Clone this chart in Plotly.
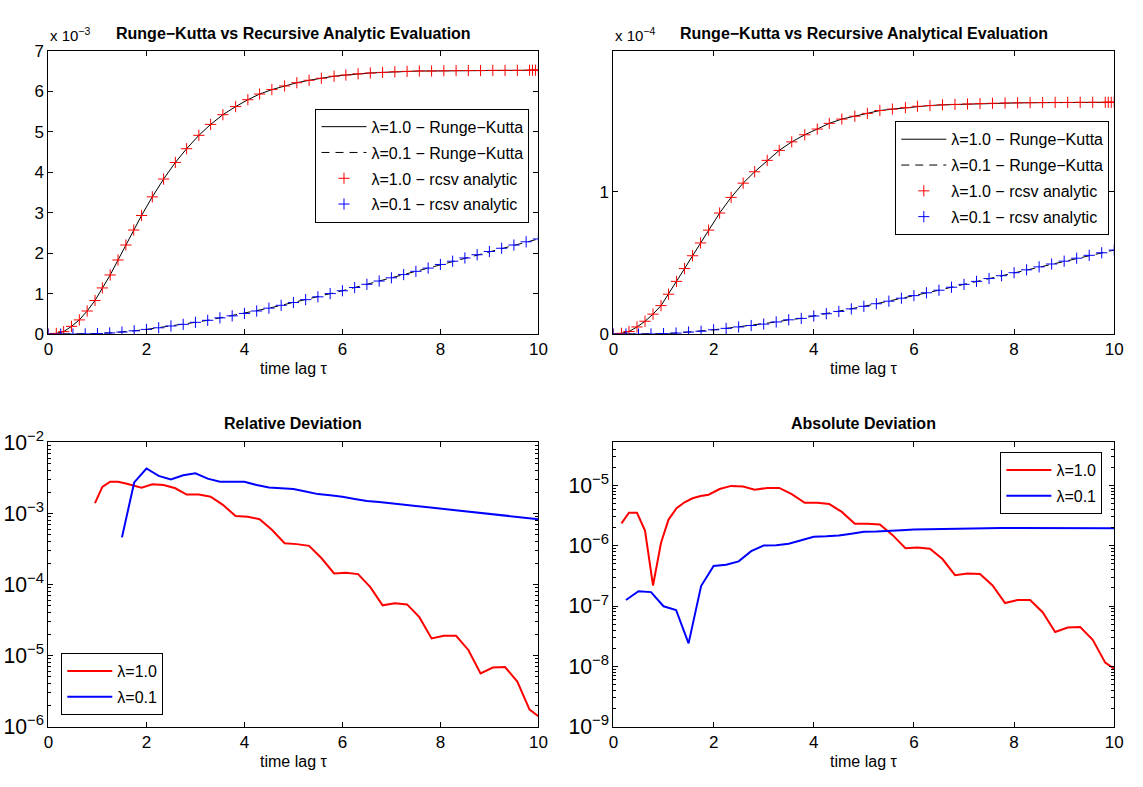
import plotly.graph_objects as go

W, H = 1143, 787

# ---------------- data ----------------
# time points of the lambda=1.0 series (top panels)
t_l10 = [0.00, 0.16, 0.31, 0.47, 0.63, 0.79, 0.95, 1.10, 1.26, 1.42, 1.58, 1.74, 1.90,
         2.12, 2.35, 2.59, 2.82, 3.07, 3.31, 3.56, 3.82, 4.07, 4.31, 4.56, 4.82, 5.07,
         5.32, 5.57, 5.83, 6.07, 6.32, 6.57, 6.82, 7.07, 7.32, 7.57, 7.82, 8.07, 8.32,
         8.57, 8.82, 9.07, 9.32, 9.57, 9.82, 9.88, 9.94, 10.00]
# time points of the lambda=0.1 series
t_l01 = [0.00, 0.25, 0.50, 0.75, 1.00, 1.25, 1.50, 1.75, 2.00, 2.25, 2.50, 2.75, 3.00,
         3.25, 3.50, 3.75, 4.00, 4.25, 4.50, 4.75, 5.00, 5.25, 5.50, 5.75, 6.00, 6.25,
         6.50, 6.75, 7.00, 7.25, 7.50, 7.75, 8.00, 8.25, 8.50, 8.75, 9.00, 9.25, 9.50,
         9.75, 10.00]

# top-left panel (units of 1e-3)
tl_l10 = [0.0, 0.016, 0.06, 0.19, 0.35, 0.57, 0.83, 1.14, 1.46, 1.83, 2.20, 2.57, 2.93,
          3.39, 3.83, 4.24, 4.58, 4.91, 5.18, 5.42, 5.62, 5.79, 5.93, 6.04, 6.13, 6.21,
          6.27, 6.32, 6.37, 6.40, 6.43, 6.45, 6.465, 6.48, 6.49, 6.50, 6.50, 6.505, 6.51,
          6.51, 6.51, 6.515, 6.515, 6.515, 6.52, 6.52, 6.52, 6.52]
tl_l01 = [0.0, 0.0, 0.0, 0.004, 0.012, 0.028, 0.05, 0.08, 0.115, 0.155, 0.20, 0.24, 0.29,
          0.34, 0.40, 0.45, 0.51, 0.57, 0.64, 0.71, 0.78, 0.85, 0.92, 1.00, 1.07, 1.15,
          1.23, 1.31, 1.39, 1.47, 1.55, 1.63, 1.72, 1.80, 1.88, 1.96, 2.04, 2.12, 2.20,
          2.28, 2.35]

# top-right panel (units of 1e-4)
tr_l10 = [0.0, 0.005, 0.018, 0.05, 0.09, 0.14, 0.20, 0.28, 0.37, 0.46, 0.55, 0.64, 0.73,
          0.85, 0.96, 1.06, 1.14, 1.22, 1.29, 1.35, 1.40, 1.44, 1.48, 1.51, 1.53, 1.55,
          1.57, 1.58, 1.59, 1.60, 1.605, 1.61, 1.613, 1.616, 1.619, 1.621, 1.623, 1.624,
          1.625, 1.626, 1.627, 1.627, 1.628, 1.628, 1.628, 1.628, 1.628, 1.628]
tr_l01 = [0.0, 0.0, 0.0, 0.001, 0.003, 0.007, 0.014, 0.02, 0.03, 0.04, 0.05, 0.06, 0.07,
          0.085, 0.10, 0.11, 0.127, 0.143, 0.159, 0.177, 0.195, 0.213, 0.231, 0.252, 0.27,
          0.29, 0.308, 0.329, 0.349, 0.37, 0.39, 0.41, 0.431, 0.451, 0.472, 0.492, 0.512,
          0.533, 0.553, 0.571, 0.59]

# deviation time points
td_l10 = [0.16, 0.31, 0.47, 0.63, 0.79, 0.95, 1.10, 1.26, 1.42, 1.58, 1.74, 1.90, 2.12,
          2.35, 2.59, 2.82, 3.07, 3.31, 3.56, 3.82, 4.07, 4.31, 4.56, 4.82, 5.07, 5.32,
          5.57, 5.83, 6.07, 6.32, 6.57, 6.82, 7.07, 7.32, 7.57, 7.82, 8.07, 8.32, 8.57,
          8.82, 9.07, 9.32, 9.57, 9.82, 10.00]
td_rel_l10 = td_l10[5:]
td_rel_l01 = t_l01[6:]
td_abs_l01 = t_l01[1:]

rel_l10 = [1.40e-3, 2.36e-3, 2.79e-3, 2.79e-3, 2.63e-3, 2.45e-3, 2.31e-3, 2.57e-3, 2.51e-3,
           2.26e-3, 1.84e-3, 1.84e-3, 1.72e-3, 1.32e-3, 9.2e-4, 9.0e-4, 8.3e-4, 5.9e-4,
           3.8e-4, 3.7e-4, 3.5e-4, 2.36e-4, 1.43e-4, 1.46e-4, 1.40e-4, 9.2e-5, 5.1e-5,
           5.45e-5, 5.25e-5, 3.47e-5, 1.74e-5, 1.9e-5, 1.9e-5, 1.2e-5, 5.6e-6, 6.8e-6,
           6.9e-6, 4.3e-6, 1.74e-6, 1.40e-6]
rel_l01 = [4.6e-4, 2.73e-3, 4.29e-3, 3.37e-3, 3.0e-3, 3.44e-3, 3.66e-3, 3.09e-3, 2.79e-3,
           2.79e-3, 2.79e-3, 2.51e-3, 2.31e-3, 2.26e-3, 2.21e-3, 2.04e-3, 1.87e-3, 1.80e-3,
           1.72e-3, 1.60e-3, 1.50e-3, 1.45e-3, 1.38e-3, 1.33e-3, 1.27e-3, 1.22e-3, 1.17e-3,
           1.12e-3, 1.08e-3, 1.03e-3, 9.9e-4, 9.5e-4, 9.1e-4, 8.7e-4, 8.3e-4]

abs_l10 = [2.34e-6, 3.51e-6, 3.51e-6, 1.78e-6, 2.19e-7, 1.12e-6, 2.71e-6, 4.17e-6, 5.25e-6,
           6.11e-6, 6.65e-6, 7.0e-6, 8.7e-6, 9.8e-6, 9.55e-6, 8.5e-6, 9.06e-6, 9.06e-6,
           7.18e-6, 5.13e-6, 5.13e-6, 4.9e-6, 3.63e-6, 2.31e-6, 2.31e-6, 2.24e-6, 1.51e-6,
           9.1e-7, 9.3e-7, 8.9e-7, 6.0e-7, 3.24e-7, 3.47e-7, 3.39e-7, 2.19e-7, 1.12e-7,
           1.26e-7, 1.26e-7, 7.9e-8, 3.7e-8, 4.4e-8, 4.5e-8, 2.75e-8, 1.15e-8, 9.1e-9]
abs_l01 = [1.26e-7, 1.76e-7, 1.70e-7, 9.9e-8, 8.6e-8, 2.4e-8, 2.14e-7, 4.6e-7, 4.83e-7,
           5.5e-7, 8.1e-7, 1.01e-6, 1.02e-6, 1.08e-6, 1.23e-6, 1.41e-6, 1.43e-6, 1.47e-6,
           1.58e-6, 1.70e-6, 1.72e-6, 1.74e-6, 1.81e-6, 1.85e-6, 1.87e-6, 1.87e-6, 1.90e-6,
           1.95e-6, 1.95e-6, 1.96e-6, 1.97e-6, 1.97e-6, 1.97e-6, 1.97e-6, 1.97e-6, 1.97e-6,
           1.96e-6, 1.96e-6, 1.95e-6, 1.95e-6]

titles = ["Runge\u2212Kutta vs Recursive Analytic Evaluation",
          "Runge\u2212Kutta vs Recursive Analytical Evaluation",
          "Relative Deviation", "Absolute Deviation"]
xlabel = "time lag \u03c4"
names_top = ["\u03bb=1.0 \u2212 Runge\u2212Kutta", "\u03bb=0.1 \u2212 Runge\u2212Kutta",
             "\u03bb=1.0 \u2212 rcsv analytic", "\u03bb=0.1 \u2212 rcsv analytic"]
names_dev = ["\u03bb=1.0", "\u03bb=0.1"]
x_ticks = [0, 2, 4, 6, 8, 10]
tl_yticks = [0, 1, 2, 3, 4, 5, 6, 7]
tr_yticks = [0, 1]

# ---------------- layout geometry ----------------
FONT = "Liberation Sans, Arial, Helvetica, sans-serif"
px = lambda v: v / W
py = lambda v: 1 - v / H
XL = [px(44), px(540)]
XR = [px(616), px(1123)]
YT = [py(331), py(38)]
YB = [py(737), py(443)]

fig = go.Figure()

def top_traces(xa, ya, y10, y01, leg):
    fig.add_trace(go.Scatter(x=t_l10, y=y10, mode="lines", name=names_top[0],
                             line=dict(color="black", width=1), xaxis=xa, yaxis=ya,
                             legend=leg, legendgroup=leg + "a"))
    fig.add_trace(go.Scatter(x=t_l01, y=y01, mode="lines", name=names_top[1],
                             line=dict(color="black", width=1, dash="8px,6px"),
                             xaxis=xa, yaxis=ya, legend=leg, legendgroup=leg + "b"))
    fig.add_trace(go.Scatter(x=t_l10, y=y10, mode="markers", name=names_top[2],
                             marker=dict(symbol="cross-thin", size=8,
                                         line=dict(color="#ff0000", width=1)),
                             xaxis=xa, yaxis=ya, legend=leg, legendgroup=leg + "c"))
    fig.add_trace(go.Scatter(x=t_l01, y=y01, mode="markers", name=names_top[3],
                             marker=dict(symbol="cross-thin", size=8,
                                         line=dict(color="#0000ff", width=1)),
                             xaxis=xa, yaxis=ya, legend=leg, legendgroup=leg + "d"))

top_traces("x", "y", tl_l10, tl_l01, "legend")
top_traces("x2", "y2", tr_l10, tr_l01, "legend2")

fig.add_trace(go.Scatter(x=td_rel_l10, y=rel_l10, mode="lines", name=names_dev[0],
                         line=dict(color="#ff0000", width=2), xaxis="x3", yaxis="y3",
                         legend="legend3", legendgroup="l3a"))
fig.add_trace(go.Scatter(x=td_rel_l01, y=rel_l01, mode="lines", name=names_dev[1],
                         line=dict(color="#0000ff", width=2), xaxis="x3", yaxis="y3",
                         legend="legend3", legendgroup="l3b"))
fig.add_trace(go.Scatter(x=td_l10, y=abs_l10, mode="lines", name=names_dev[0],
                         line=dict(color="#ff0000", width=2), xaxis="x4", yaxis="y4",
                         legend="legend4", legendgroup="l4a"))
fig.add_trace(go.Scatter(x=td_abs_l01, y=abs_l01, mode="lines", name=names_dev[1],
                         line=dict(color="#0000ff", width=2), xaxis="x4", yaxis="y4",
                         legend="legend4", legendgroup="l4b"))

axc = dict(showline=True, linecolor="black", linewidth=1, mirror="ticks", ticks="inside",
           ticklen=5, tickcolor="black", tickwidth=1, showgrid=False, zeroline=False,
           tickfont=dict(size=17, color="black", family=FONT))
logminor = dict(ticks="inside", ticklen=3, tickcolor="black", dtick="D1", showgrid=False)

def xax(dom, anchor):
    return dict(axc, domain=dom, anchor=anchor, range=[0, 10], tickmode="array",
                tickvals=x_ticks)

legc = dict(bgcolor="white", bordercolor="black", borderwidth=1,
            font=dict(size=16, color="black", family=FONT), traceorder="grouped",
            tracegroupgap=2, itemwidth=45)

fig.update_layout(
    width=W, height=H, margin=dict(l=0, r=0, t=0, b=0),
    paper_bgcolor="white", plot_bgcolor="white",
    font=dict(family=FONT, color="black"),
    showlegend=True,
    xaxis=xax(XL, "y"), xaxis2=xax(XR, "y2"), xaxis3=xax(XL, "y3"), xaxis4=xax(XR, "y4"),
    yaxis=dict(axc, domain=YT, anchor="x", range=[0, 7], tickmode="array",
               tickvals=tl_yticks),
    yaxis2=dict(axc, domain=YT, anchor="x2", range=[0, 1.99], tickmode="array",
                tickvals=tr_yticks),
    yaxis3=dict(axc, domain=YB, anchor="x3", type="log", range=[-6, -2], dtick=1,
                exponentformat="power", minor=logminor),
    yaxis4=dict(axc, domain=YB, anchor="x4", type="log", range=[-9, -4.287], dtick=1,
                exponentformat="power", minor=logminor),
    legend=dict(legc, x=px(531), y=py(98), xanchor="right", yanchor="top"),
    legend2=dict(legc, x=px(1118), y=py(111), xanchor="right", yanchor="top"),
    legend3=dict(legc, x=px(57), y=py(725), xanchor="left", yanchor="bottom"),
    legend4=dict(legc, x=px(1111), y=py(453), xanchor="right", yanchor="top"),
)

ann = []
for i, (xd, yc) in enumerate([(XL, py(20)), (XR, py(20)), (XL, py(424)), (XR, py(424))]):
    ann.append(dict(text="<b>" + titles[i] + "</b>", x=(xd[0] + xd[1]) / 2, y=yc,
                    xref="paper", yref="paper", xanchor="center", yanchor="middle",
                    showarrow=False, font=dict(size=16, family=FONT, color="black")))
for xd, yc in [(XL, py(367)), (XR, py(367)), (XL, py(773)), (XR, py(773))]:
    ann.append(dict(text=xlabel, x=(xd[0] + xd[1]) / 2, y=yc, xref="paper", yref="paper",
                    xanchor="center", yanchor="middle", showarrow=False,
                    font=dict(size=16, family=FONT, color="black")))
for xd, e in [(XL, "3"), (XR, "4")]:
    ann.append(dict(text="x 10<sup>\u2212" + e + "</sup>", x=xd[0], y=py(33),
                    xref="paper", yref="paper", xanchor="left", yanchor="bottom",
                    showarrow=False, font=dict(size=15, family=FONT, color="black")))
fig.update_layout(annotations=ann)

fig.write_html("out.html")
